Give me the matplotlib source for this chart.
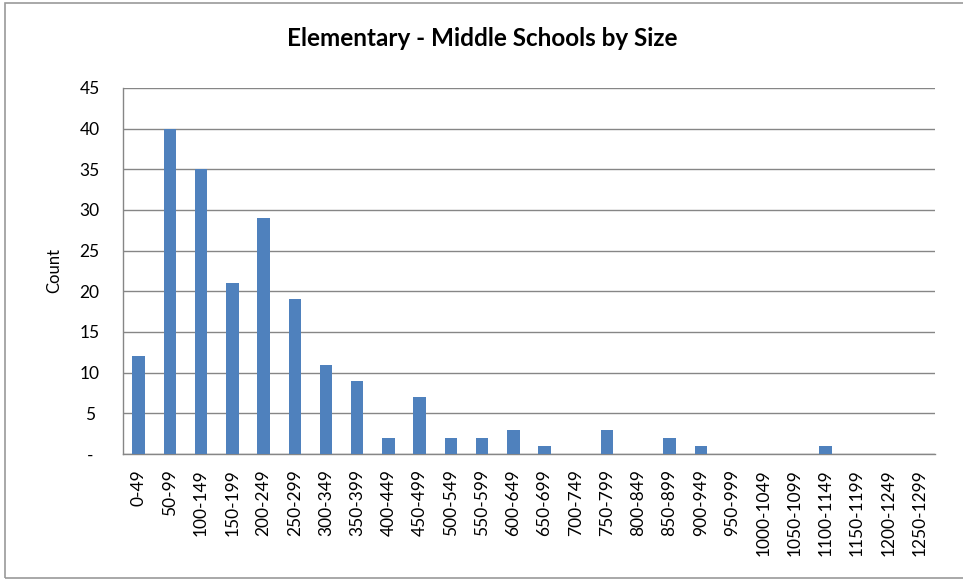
import numpy as np
import matplotlib.pyplot as plt
from matplotlib.patches import Rectangle

# data
sizes = ['0-49', '50-99', '100-149', '150-199', '200-249', '250-299', '300-349',
         '350-399', '400-449', '450-499', '500-549', '550-599', '600-649', '650-699',
         '700-749', '750-799', '800-849', '850-899', '900-949', '950-999',
         '1000-1049', '1050-1099', '1100-1149', '1150-1199', '1200-1249', '1250-1299']
counts = [12, 40, 35, 21, 29, 19, 11, 9, 2, 7, 2, 2, 3, 1, 0, 3, 0, 2, 1, 0, 0, 0, 1, 0, 0, 0]
yticks = [0, 5, 10, 15, 20, 25, 30, 35, 40, 45]
ytick_labels = ['-'] + [str(v) for v in yticks[1:]]

plt.rcParams['font.family'] = ['Lato', 'DejaVu Sans']

fig = plt.figure(figsize=(9.63, 5.79), dpi=100)
W, H = 963, 579
# outer chart frame (right edge runs past the picture)
fig.patches.append(Rectangle((5 / W, 1 - 578 / H), (990 - 5) / W, (578 - 3) / H,
                             transform=fig.transFigure, fill=False,
                             edgecolor='#9a9a9a', linewidth=1.2))

ax = fig.add_axes([123 / W, 1 - 454 / H, (935 - 123) / W, (454 - 88) / H])
x = np.arange(len(sizes))
ax.bar(x, counts, width=0.4, color='#4f81bd', zorder=3)

ax.set_xlim(-0.5, len(sizes) - 0.5)
ax.set_ylim(0, 45)
ax.set_yticks(yticks)
ax.set_yticklabels(ytick_labels, fontsize=12.5)
ax.set_xticks(x)
ax.set_xticklabels(sizes, rotation=90, fontsize=12.5)
ax.tick_params(length=0, pad=11)
ax.tick_params(axis='y', pad=24)
for t in ax.get_yticklabels():
    t.set_horizontalalignment('center')

ax.grid(axis='y', color='#868686', linewidth=1.0, zorder=0)
for s in ['top', 'right']:
    ax.spines[s].set_visible(False)
for s in ['left', 'bottom']:
    ax.spines[s].set_color('#868686')
    ax.spines[s].set_linewidth(1.0)

ax.set_ylabel('Count', fontsize=12)
ax.yaxis.set_label_coords(-(123 - 62) / (935 - 123), 0.5)
fig.text(482 / W, 1 - 38 / H, 'Elementary - Middle Schools by Size',
         ha='center', va='center', fontsize=17.5, fontweight='bold')

fig.savefig('out.png', dpi=100)
